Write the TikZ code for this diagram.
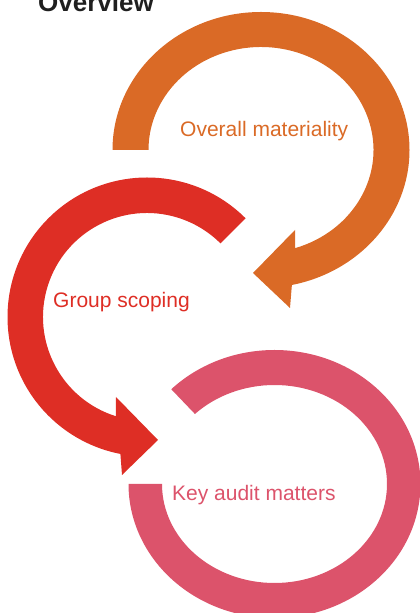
\documentclass[tikz,border=0pt]{standalone}
\usepackage{fontspec}
\setmainfont{Liberation Sans}
\definecolor{stageorange}{RGB}{218,106,38}
\definecolor{stagered}{RGB}{222,46,37}
\definecolor{stagerose}{RGB}{220,83,107}
\begin{document}
\begin{tikzpicture}[x=1pt, y=1pt,
  ttl/.style={anchor=base west, inner sep=0pt, text=black!88, font=\fontsize{26}{31}\selectfont\bfseries},
  lbl/.style={anchor=base west, inner sep=0pt, font=\fontsize{21}{25}\selectfont}
]
  \useasboundingbox (0,0) rectangle (420,613);
  \clip (0,0) rectangle (420,613);

  \coordinate (oc) at (261,463);
  \coordinate (rc) at (147,296);
  \coordinate (pc) at (274.5,129);

  \fill[stageorange, shift={(oc)}]
    (180:148.5 and 138) arc[start angle=180, end angle=-78, x radius=148.5, y radius=138]
    -- (29,-158) -- (-8,-123) -- (34,-80)
    -- (-72.4:112.5 and 103) arc[start angle=-72.4, end angle=180, x radius=112.5, y radius=103]
    -- cycle;

  \fill[stagered, shift={(rc)}]
    (45:139.5) arc[start angle=45, end angle=259, radius=139.5]
    -- (-25,-158) -- (11,-123) -- (-31,-80)
    -- (252.6:104) arc[start angle=252.6, end angle=45, radius=104]
    -- cycle;

  \fill[stagerose, shift={(pc)}]
    (135:146 and 134) arc[start angle=135, end angle=-180, x radius=146, y radius=134]
    -- (180:112.5 and 99) arc[start angle=-180, end angle=135, x radius=112.5, y radius=99]
    -- cycle;

  \node[ttl] (title) at (38,601) {Overview};
  \node[lbl, text=stageorange] (mat) at (180,476) {Overall materiality};
  \node[lbl, text=stagered] (scope) at (53,305) {Group scoping};
  \node[lbl, text=stagerose] (kam) at (172,112) {Key audit matters};
\end{tikzpicture}
\end{document}
